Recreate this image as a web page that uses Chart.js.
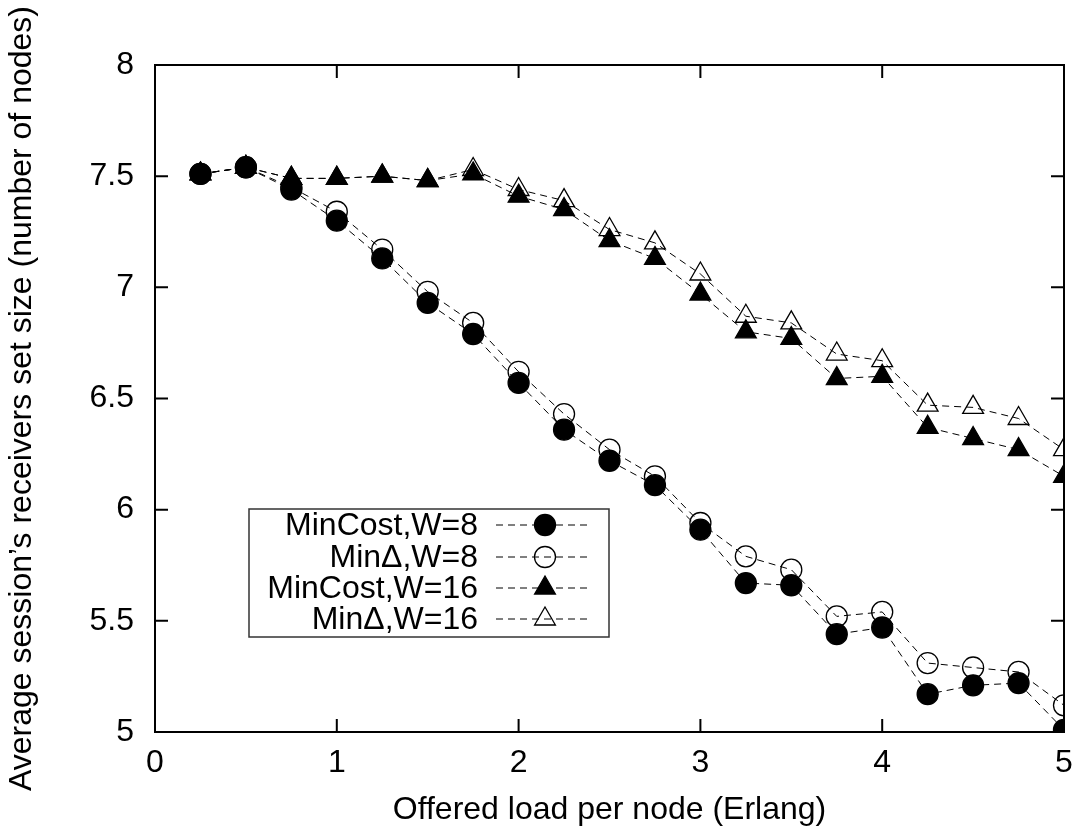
<!DOCTYPE html>
<html>
<head>
<meta charset="utf-8">
<script src="https://cdn.jsdelivr.net/npm/chart.js@4.4.1/dist/chart.umd.min.js"></script>
<style>
  body { margin: 0; background: #fff; }
  #wrap { width: 1087px; height: 832px; }
</style>
</head>
<body>
<div id="wrap"><canvas id="grafico" width="1087" height="832"></canvas></div>
<script>
// offered load (Erlang)
const carga = [0.25, 0.5, 0.75, 1, 1.25, 1.5, 1.75, 2, 2.25, 2.5, 2.75, 3, 3.25, 3.5, 3.75, 4, 4.25, 4.5, 4.75, 5];

const minCostW8 = [7.51, 7.54, 7.44, 7.30, 7.13, 6.93, 6.79, 6.57, 6.36, 6.22, 6.11, 5.91, 5.67, 5.66, 5.44, 5.47, 5.17, 5.21, 5.22, 5.01];
const minDeltaW8 = [7.51, 7.54, 7.45, 7.34, 7.17, 6.98, 6.84, 6.62, 6.43, 6.27, 6.15, 5.94, 5.79, 5.73, 5.52, 5.54, 5.31, 5.29, 5.27, 5.12];
const minCostW16 = [7.51, 7.54, 7.49, 7.49, 7.50, 7.48, 7.51, 7.41, 7.35, 7.21, 7.13, 6.97, 6.80, 6.77, 6.59, 6.60, 6.37, 6.32, 6.27, 6.15];
const minDeltaW16 = [7.51, 7.54, 7.49, 7.49, 7.50, 7.48, 7.53, 7.44, 7.39, 7.26, 7.20, 7.06, 6.87, 6.84, 6.70, 6.67, 6.47, 6.46, 6.41, 6.27];

const rotulos = ['MinCost,W=8', 'Min\u0394,W=8', 'MinCost,W=16', 'Min\u0394,W=16'];
const xTicks = [0, 1, 2, 3, 4, 5];
const yTicks = [5, 5.5, 6, 6.5, 7, 7.5, 8];

const fonte = "'Liberation Sans', Arial, Helvetica, sans-serif";
const tam = 32;

function serie(label, valores, estilo, cheio, ordem) {
  return {
    label: label,
    data: carga.map((x, i) => ({ x: x, y: valores[i] })),
    borderColor: '#000',
    borderWidth: 1,
    borderDash: [7, 5],
    backgroundColor: cheio ? '#000' : 'rgba(0,0,0,0)',
    pointStyle: estilo,
    pointRadius: estilo === 'triangle' ? 12 : 10.5,
    pointBorderWidth: 1.3,
    pointBorderColor: '#000',
    pointBackgroundColor: cheio ? '#000' : 'rgba(0,0,0,0)',
    fill: false,
    tension: 0,
    order: ordem
  };
}

// frame with inward ticks (gnuplot style)
const moldura = {
  id: 'moldura',
  afterDatasetsDraw(chart) {
    const ctx = chart.ctx;
    const a = chart.chartArea;
    const sx = chart.scales.x, sy = chart.scales.y;
    const t = 13;
    ctx.save();
    ctx.strokeStyle = '#000';
    ctx.lineWidth = 2;
    ctx.setLineDash([]);
    ctx.strokeRect(a.left, a.top, a.right - a.left, a.bottom - a.top);
    ctx.beginPath();
    xTicks.forEach(v => {
      const px = sx.getPixelForValue(v);
      ctx.moveTo(px, a.bottom); ctx.lineTo(px, a.bottom - t);
      ctx.moveTo(px, a.top); ctx.lineTo(px, a.top + t);
    });
    yTicks.forEach(v => {
      const py = sy.getPixelForValue(v);
      ctx.moveTo(a.left, py); ctx.lineTo(a.left + t, py);
      ctx.moveTo(a.right, py); ctx.lineTo(a.right - t, py);
    });
    ctx.stroke();
    ctx.restore();
  }
};

// legend box inside the plot
const legenda = {
  id: 'legenda',
  afterDraw(chart) {
    const ctx = chart.ctx;
    const linhas = [525, 557, 588, 619];
    ctx.save();
    ctx.strokeStyle = '#333';
    ctx.lineWidth = 1.5;
    ctx.setLineDash([]);
    ctx.strokeRect(249, 509, 360, 128);
    ctx.font = tam + 'px ' + fonte;
    ctx.textAlign = 'right';
    ctx.textBaseline = 'middle';
    chart.data.datasets.forEach((ds, i) => {
      const y = linhas[i];
      ctx.fillStyle = '#000';
      ctx.fillText(ds.label, 478, y + 1);
      ctx.strokeStyle = '#000';
      ctx.lineWidth = 1;
      ctx.setLineDash([7, 5]);
      ctx.beginPath();
      ctx.moveTo(496, y); ctx.lineTo(590, y);
      ctx.stroke();
      ctx.setLineDash([]);
      ctx.fillStyle = ds.pointBackgroundColor;
      ctx.lineWidth = ds.pointBorderWidth;
      Chart.helpers.drawPoint(ctx, {
        pointStyle: ds.pointStyle,
        radius: ds.pointRadius,
        borderWidth: ds.pointBorderWidth,
        rotation: 0
      }, 545, y);
    });
    ctx.restore();
  }
};

new Chart(document.getElementById('grafico'), {
  type: 'line',
  data: {
    datasets: [
      serie(rotulos[0], minCostW8, 'circle', true, 4),
      serie(rotulos[1], minDeltaW8, 'circle', false, 3),
      serie(rotulos[2], minCostW16, 'triangle', true, 2),
      serie(rotulos[3], minDeltaW16, 'triangle', false, 1)
    ]
  },
  options: {
    responsive: false,
    animation: false,
    layout: { padding: { top: 65, right: 23, bottom: 0, left: 0 } },
    plugins: {
      legend: { display: false },
      tooltip: { enabled: false }
    },
    scales: {
      x: {
        type: 'linear',
        min: 0,
        max: 5,
        afterFit(s) { s.height = 100; },
        afterBuildTicks(s) { s.ticks = xTicks.map(v => ({ value: v })); },
        grid: { display: false, drawTicks: false },
        border: { display: false },
        ticks: {
          color: '#000',
          padding: 12,
          font: { family: fonte, size: tam },
          callback: v => String(v)
        },
        title: {
          display: true,
          text: 'Offered load per node (Erlang)',
          color: '#000',
          font: { family: fonte, size: tam },
          padding: { top: 0, bottom: 3 }
        }
      },
      y: {
        type: 'linear',
        min: 5,
        max: 8,
        afterFit(s) { s.width = 155; },
        afterBuildTicks(s) { s.ticks = yTicks.map(v => ({ value: v })); },
        grid: { display: false, drawTicks: false },
        border: { display: false },
        ticks: {
          color: '#000',
          padding: 21,
          font: { family: fonte, size: tam },
          callback: v => String(v)
        },
        title: {
          display: true,
          text: 'Average session\u2019s receivers set size (number of nodes)',
          color: '#000',
          font: { family: fonte, size: tam },
          padding: { top: 3, bottom: 0 }
        }
      }
    }
  },
  plugins: [moldura, legenda]
});
</script>
</body>
</html>
